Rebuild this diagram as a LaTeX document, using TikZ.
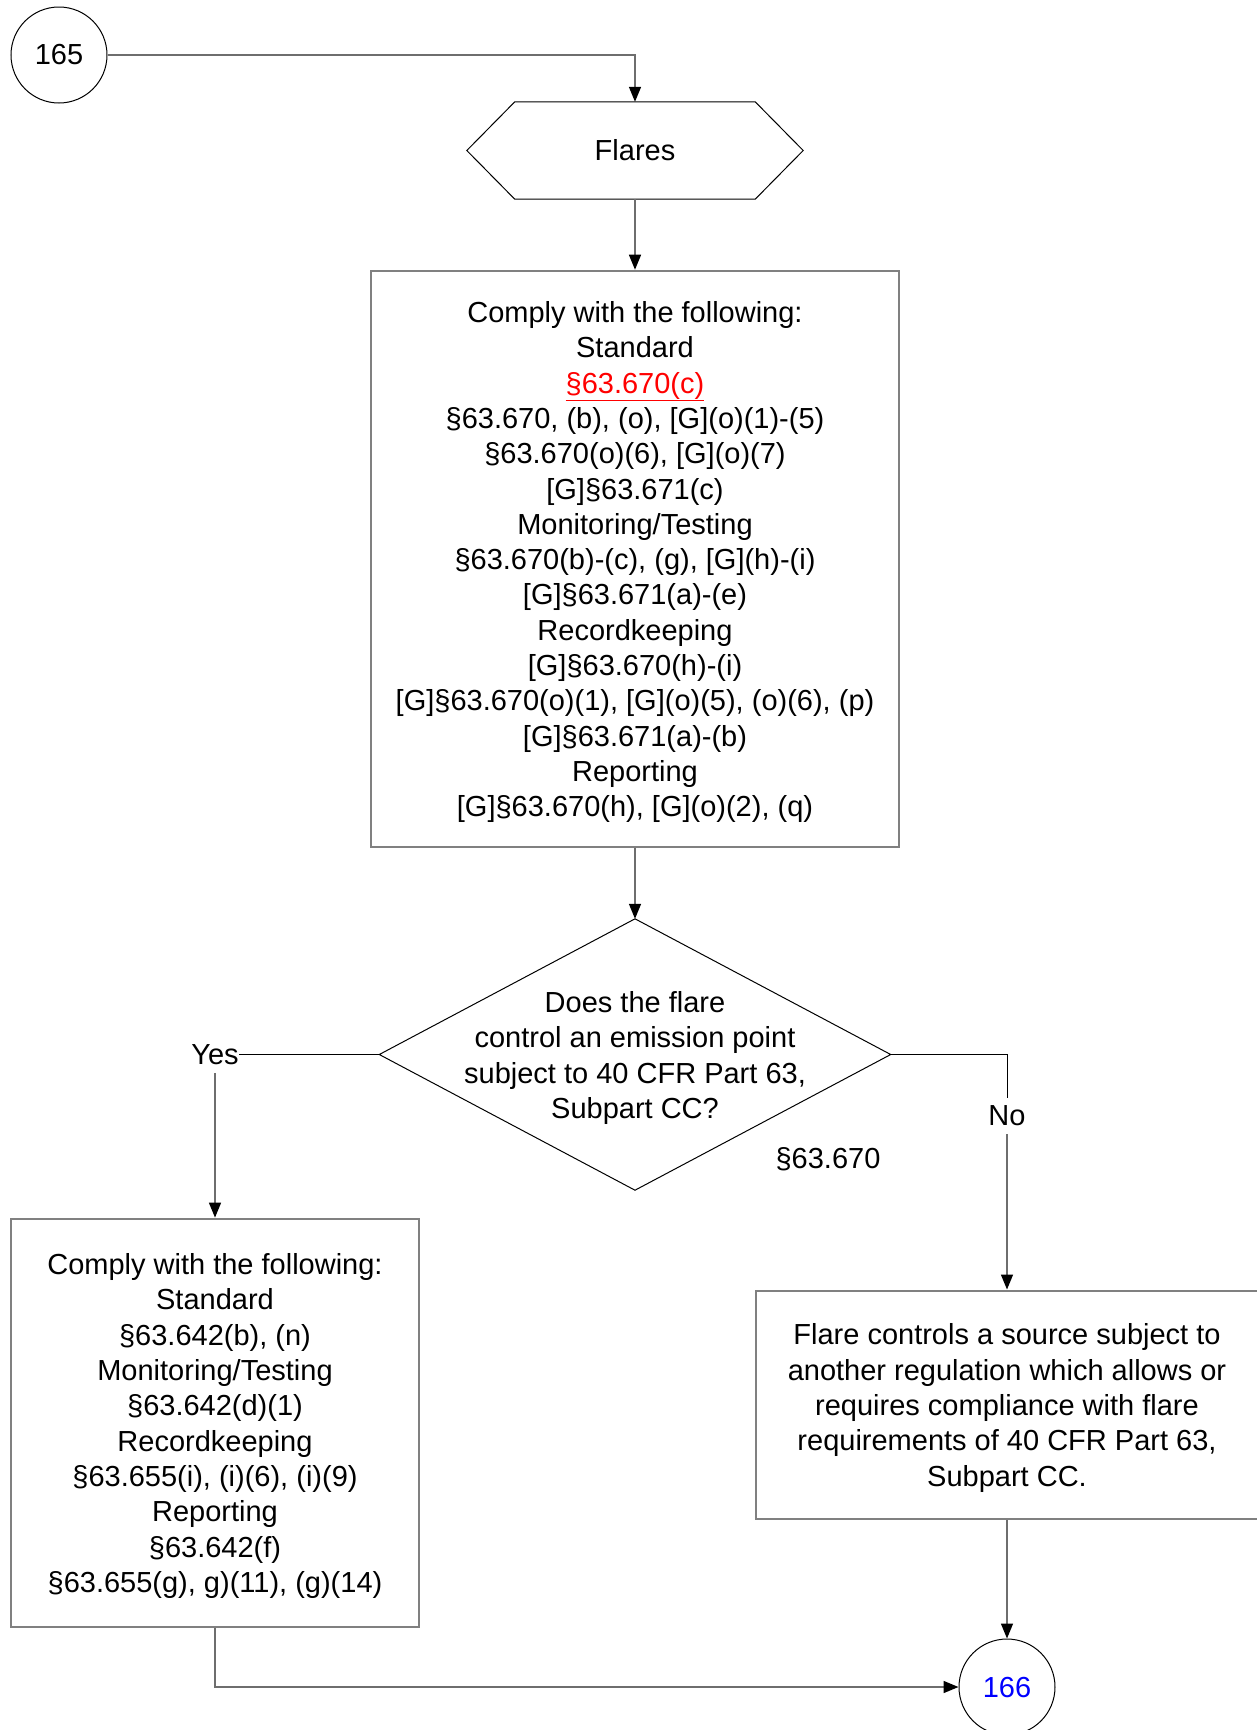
\documentclass[tikz,border=0pt]{standalone}
\usepackage{fontspec}
\setmainfont{Liberation Sans}
\usetikzlibrary{arrows.meta}
\definecolor{linegray}{RGB}{110,110,110}
\definecolor{boxgray}{RGB}{128,128,128}
\newcommand{\toppad}{\rule{0pt}{27.8pt}}
\begin{document}
\begin{tikzpicture}[x=1pt,y=-1pt,
  every node/.style={font={\fontsize{29}{35.3}\selectfont}},
  boxnode/.style={draw=boxgray,line width=2pt,rectangle,align=center,inner sep=0pt},
  plainnode/.style={inner sep=0pt,align=center},
  circnode/.style={draw=black,line width=1pt,circle,minimum size=96pt,inner sep=0pt},
  lbl/.style={inner xsep=0pt,inner ysep=8pt},
  conn/.style={draw=linegray,line width=1.5pt,-{Triangle[length=15pt,width=12pt,color=black]}},
  seg/.style={draw=black,line width=1pt},
  outline/.style={draw=black,line width=1pt}]
\useasboundingbox (0,0) rectangle (1256,1730);

\node[circnode] (c165) at (59,55) {165};
\node[plainnode,minimum width=336pt,minimum height=97pt] (fl) at (635,150.5) {Flares};
\draw[outline] (fl.west) -- ([xshift=48pt]fl.north west) -- ([xshift=-48pt]fl.north east)
  -- (fl.east) -- ([xshift=-48pt]fl.south east) -- ([xshift=48pt]fl.south west) -- cycle;

\node[boxnode,minimum width=528.5pt,minimum height=576pt] (mb) at (635,558.7) {%
\toppad Comply with the following:\\
Standard\\
\textcolor{red}{\underline{§63.670(c)}}\\
§63.670, (b), (o), [G](o)(1)-(5)\\
§63.670(o)(6), [G](o)(7)\\
{[G]}§63.671(c)\\
Monitoring/Testing\\
§63.670(b)-(c), (g), [G](h)-(i)\\
{[G]}§63.671(a)-(e)\\
Recordkeeping\\
{[G]}§63.670(h)-(i)\\
{[G]}§63.670(o)(1), [G](o)(5), (o)(6), (p)\\
{[G]}§63.671(a)-(b)\\
Reporting\\
{[G]}§63.670(h), [G](o)(2), (q)};

\node[plainnode,minimum width=511pt,minimum height=271pt] (dia) at (635,1054.5) {%
\toppad Does the flare\\
control an emission point\\
subject to 40 CFR Part 63,\\
Subpart CC?};
\draw[outline] (dia.north) -- (dia.east) -- (dia.south) -- (dia.west) -- cycle;

\node[plainnode] (cite) at (828,1159) {§63.670};
\node[lbl] (yes) at (215,1054.5) {Yes};
\node[lbl] (no) at (1007,1116) {No};

\node[boxnode,minimum width=408.6pt,minimum height=408pt] (lb) at (215,1422.6) {%
\toppad Comply with the following:\\
Standard\\
§63.642(b), (n)\\
Monitoring/Testing\\
§63.642(d)(1)\\
Recordkeeping\\
§63.655(i), (i)(6), (i)(9)\\
Reporting\\
§63.642(f)\\
§63.655(g), g)(11), (g)(14)};

\node[boxnode,minimum width=503pt,minimum height=228pt] (rb) at (1007,1404.5) {%
\toppad Flare controls a source subject to\\
another regulation which allows or\\
requires compliance with flare\\
requirements of 40 CFR Part 63,\\
Subpart CC.};

\node[circnode] (c166) at (1007,1687) {\textcolor{blue}{166}};

\draw[conn] (c165.east) -| (fl.north);
\draw[conn] (fl.south) -- (mb.north);
\draw[conn] (mb.south) -- (dia.north);
\draw[seg] (dia.west) -- (yes.east);
\draw[conn] (yes.south) -- (lb.north);
\draw[seg] (dia.east) -| (no.north);
\draw[conn] (no.south) -- (rb.north);
\draw[conn] (rb.south) -- (c166.north);
\draw[conn] (lb.south) |- (c166.west);
\end{tikzpicture}
\end{document}
